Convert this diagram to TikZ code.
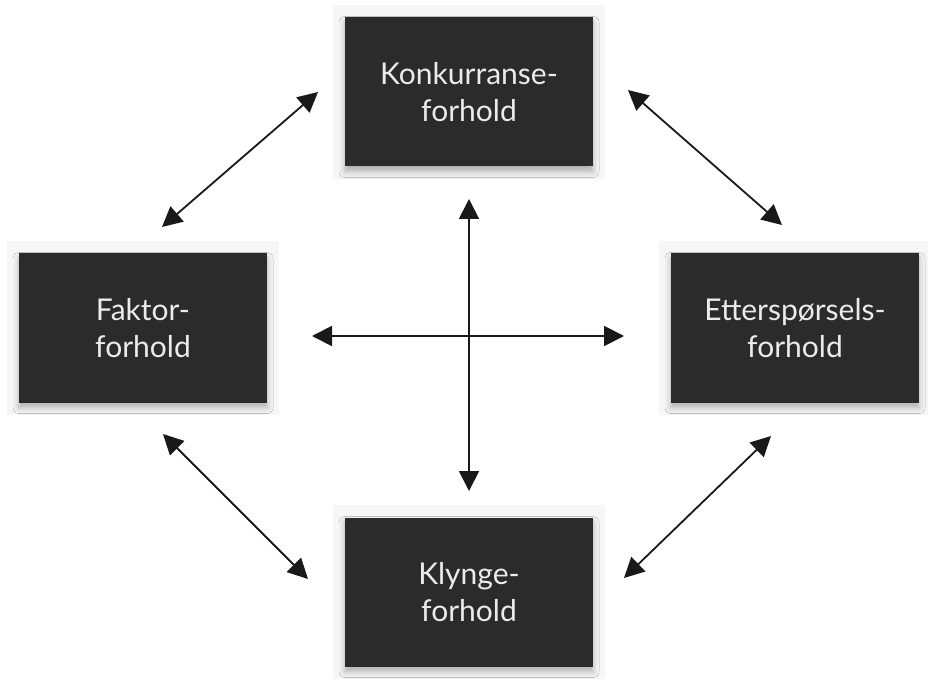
\documentclass[tikz,border=0pt]{standalone}
\usepackage{fontspec}
\setmainfont{Lato}
\usetikzlibrary{arrows.meta,shadows.blur}
\definecolor{boxfill}{HTML}{2A2B2A}
\definecolor{boxtext}{HTML}{EBEBEB}
\definecolor{panel}{HTML}{F6F6F6}
\tikzset{
  fbox/.style={draw=none, fill=boxfill, text=boxtext, minimum width=248pt, minimum height=149pt,
    align=center, font=\fontsize{30}{37}\selectfont, inner sep=0pt,
    blur shadow={shadow xshift=0pt, shadow yshift=-5pt, shadow blur radius=6pt, shadow opacity=30}},
  conn/.style={draw=black!90, line width=1.8pt, {Triangle[length=20pt,width=20pt]}-{Triangle[length=20pt,width=20pt]}},
}
\begin{document}
\begin{tikzpicture}[x=1pt,y=-1pt]
\useasboundingbox[fill=white] (0,0) rectangle (928,684);
% panels
\foreach \cx/\cy in {469/92, 143/328, 795/328, 469/592}{
  \fill[panel] (\cx-136,\cy-87) rectangle (\cx+136,\cy+87);
}
\node[fbox] (konk) at (469,92) {Konkurranse-\\forhold};
\node[fbox] (fakt) at (143,328) {Faktor-\\forhold};
\node[fbox] (ette) at (795,328) {Etterspørsels-\\forhold};
\node[fbox] (klyn) at (469,592) {Klynge-\\forhold};
% connector end points
\coordinate (tl1) at (162,227); \coordinate (tl2) at (318,92);
\coordinate (tr1) at (628,90);  \coordinate (tr2) at (782,225);
\coordinate (bl1) at (163,434); \coordinate (bl2) at (308,579);
\coordinate (br1) at (624,578); \coordinate (br2) at (771,436);
\coordinate (vt) at (469,199); \coordinate (vb) at (469,491);
\coordinate (hl) at (312,336); \coordinate (hr) at (624,336);
\draw[conn] (tl1) -- (tl2);
\draw[conn] (tr1) -- (tr2);
\draw[conn] (bl1) -- (bl2);
\draw[conn] (br1) -- (br2);
\draw[conn] (vt) -- (vb);
\draw[conn] (hl) -- (hr);
\end{tikzpicture}
\end{document}
